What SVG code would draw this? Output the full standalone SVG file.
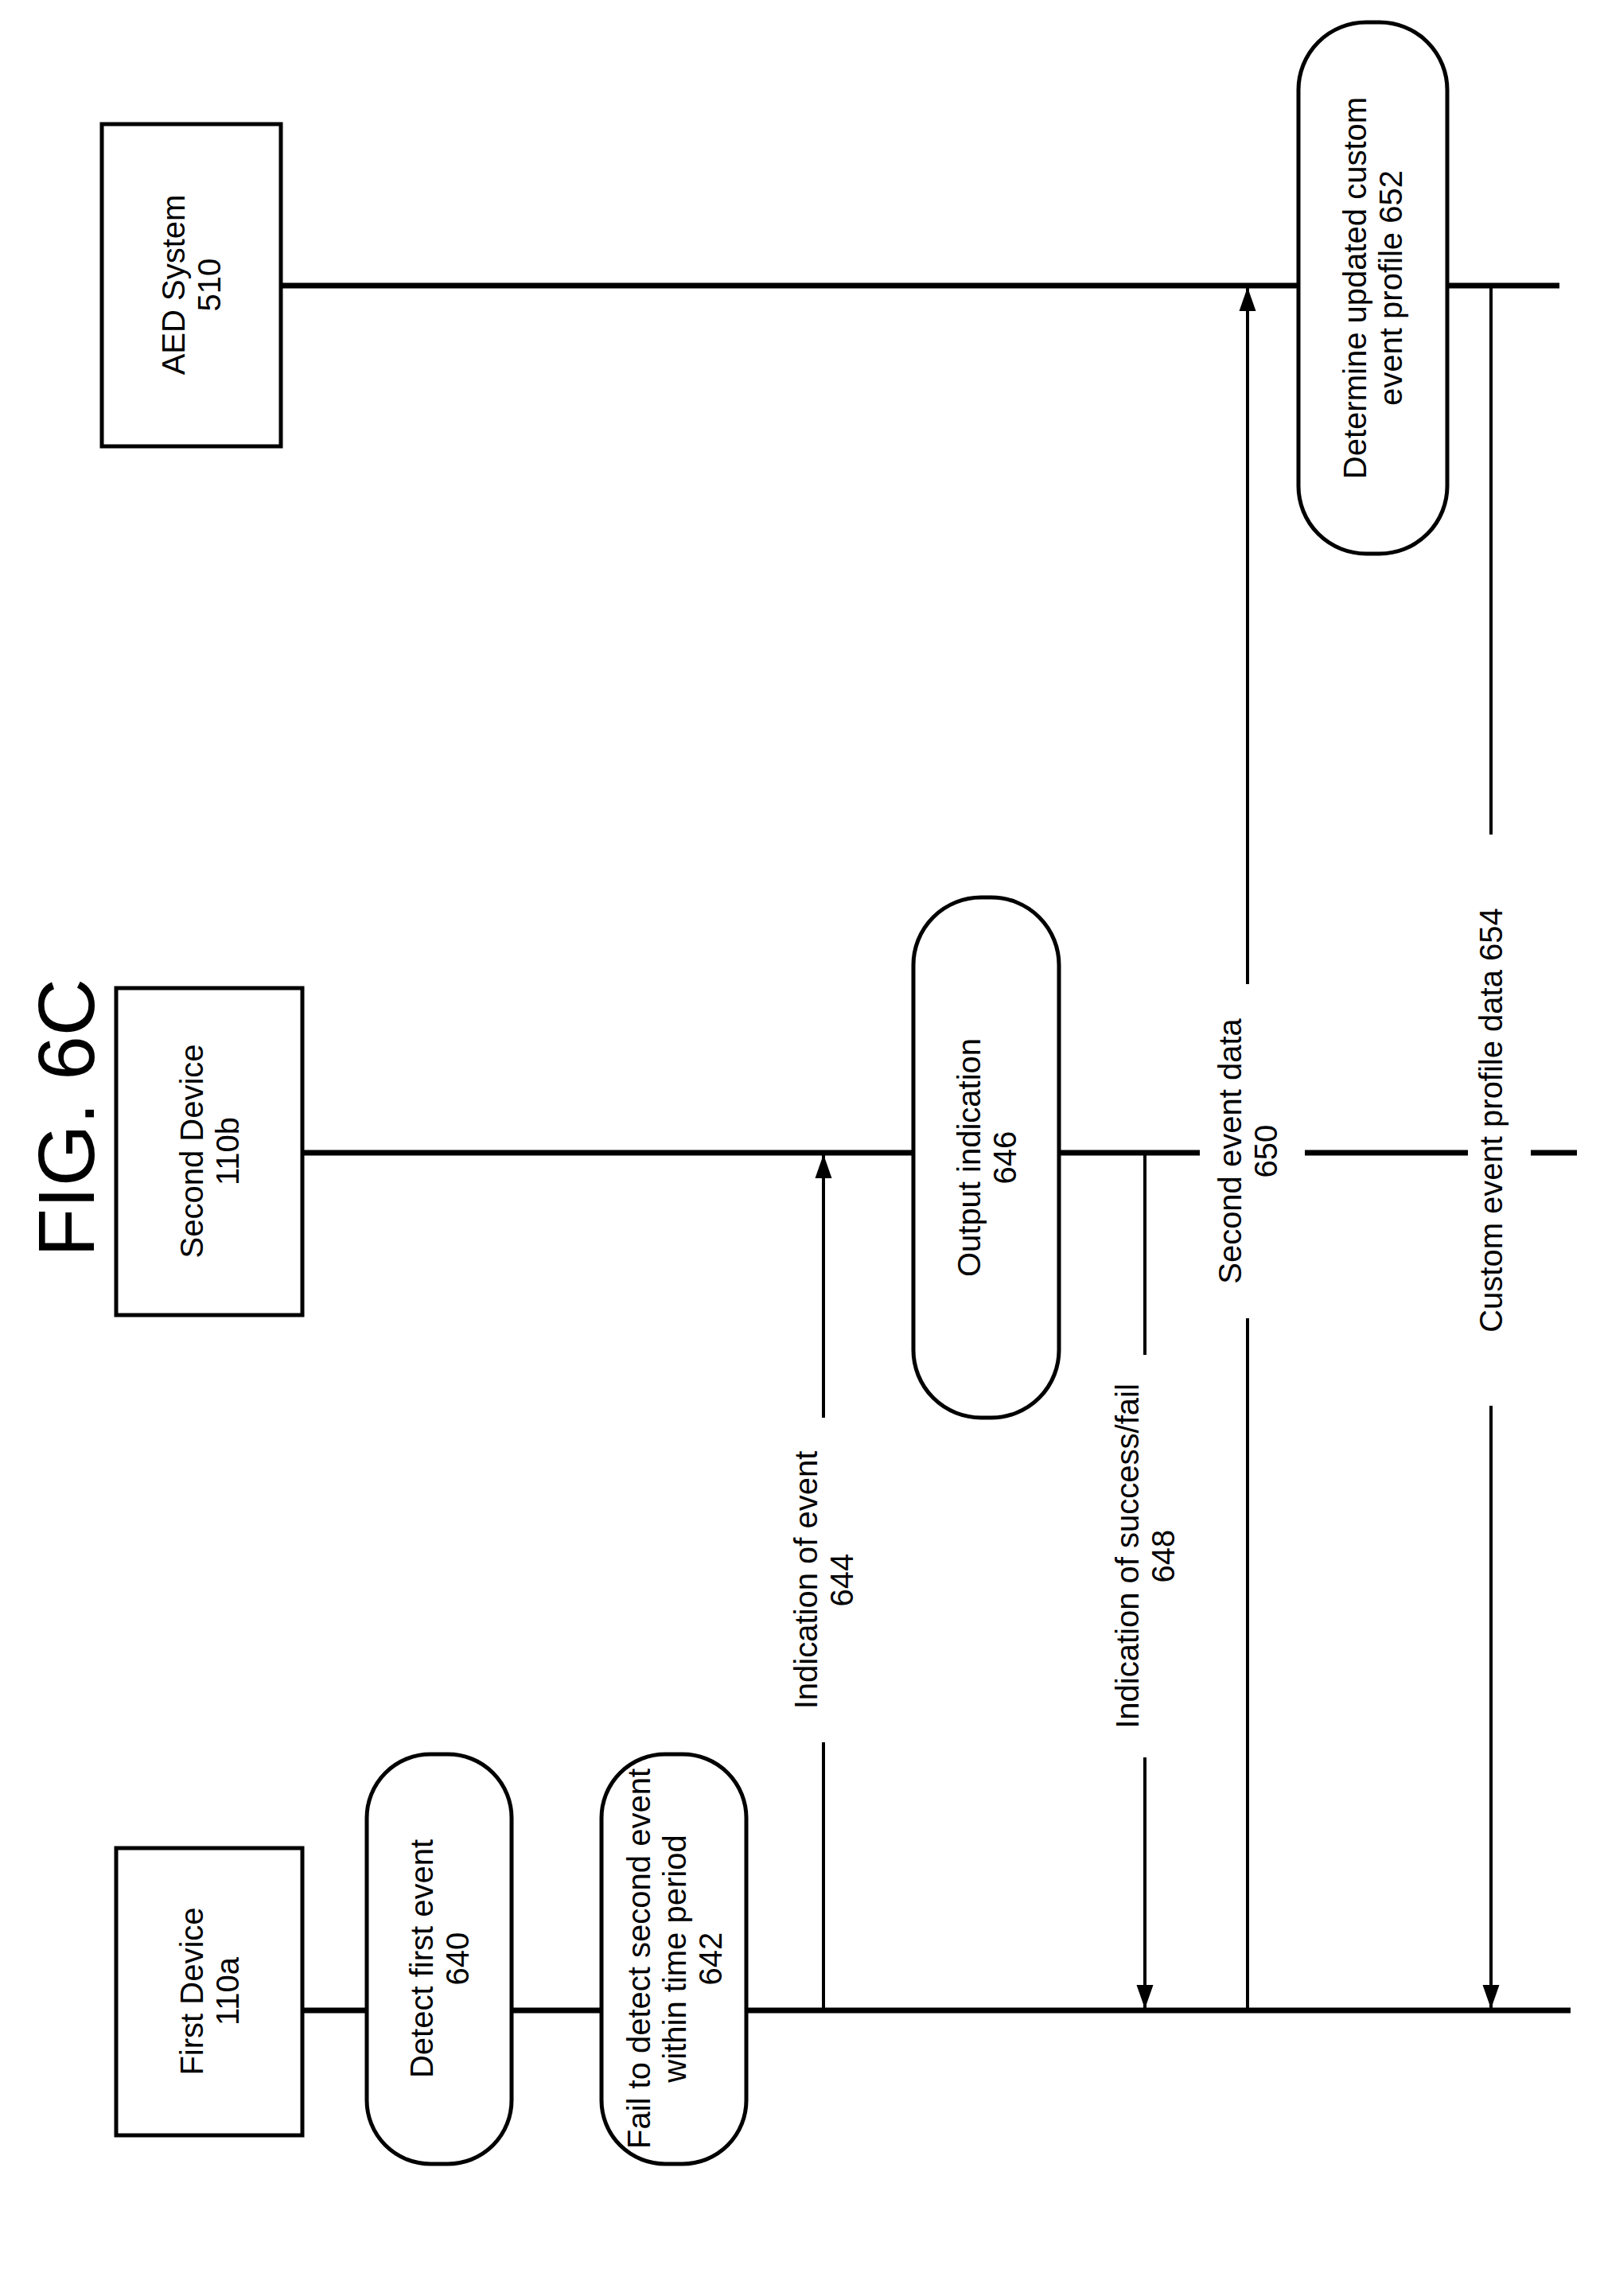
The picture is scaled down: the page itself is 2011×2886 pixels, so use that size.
<svg xmlns="http://www.w3.org/2000/svg" width="2011" height="2886" viewBox="0 0 2011 2886">
<defs>
<style>
.b{fill:#fff;stroke:#000;stroke-width:5}
.l{stroke:#000;stroke-width:7;fill:none}
.c{stroke:#000;stroke-width:4;fill:none}
text{font-family:"Liberation Sans",Arial,sans-serif;font-size:40px;text-anchor:middle;fill:#000}
</style>
<marker id="a" viewBox="0 0 10 10" refX="10" refY="5" markerWidth="7" markerHeight="7" markerUnits="userSpaceOnUse" orient="auto"><path d="M0,0L10,5L0,10z"/></marker>
<marker id="ah" viewBox="0 0 10 10" refX="10" refY="5" markerWidth="30" markerHeight="30" markerUnits="userSpaceOnUse" orient="auto"><path d="M0,1.5L10,5L0,8.5z"/></marker>
</defs>
<text transform="translate(118,1405) rotate(-90)" style="font-size:100px">FIG. 6C</text>
<g id="lifelines">
<line class="l" x1="380" y1="2527" x2="1974" y2="2527"/>
<line class="l" x1="380" y1="1449" x2="1508" y2="1449"/>
<line class="l" x1="1640" y1="1449" x2="1845" y2="1449"/>
<line class="l" x1="1924" y1="1449" x2="1982" y2="1449"/>
<line class="l" x1="353" y1="359" x2="1960" y2="359"/>
</g>
<g id="first-device"><rect class="b" x="146" y="2323" width="234" height="361"/>
<text transform="translate(263,2503) rotate(-90)"><tspan x="0" y="-8">First Device</tspan><tspan x="0" y="37">110a</tspan></text></g>
<g id="second-device"><rect class="b" x="146" y="1242" width="234" height="411"/>
<text transform="translate(263,1447) rotate(-90)"><tspan x="0" y="-8">Second Device</tspan><tspan x="0" y="37">110b</tspan></text></g>
<g id="aed-system"><rect class="b" x="128" y="156" width="225" height="405"/>
<text transform="translate(240,358) rotate(-90)"><tspan x="0" y="-8">AED System</tspan><tspan x="0" y="37">510</tspan></text></g>
<g id="n640"><rect class="b" x="461" y="2205" width="182" height="515" rx="80" ry="80"/>
<text transform="translate(552,2462) rotate(-90)"><tspan x="0" y="-8">Detect first event</tspan><tspan x="0" y="37">640</tspan></text></g>
<g id="n642"><rect class="b" x="756" y="2205" width="182" height="515" rx="80" ry="80"/>
<text transform="translate(847,2462) rotate(-90)"><tspan x="0" y="-30">Fail to detect second event</tspan><tspan x="0" y="15">within time period</tspan><tspan x="0" y="60">642</tspan></text></g>
<g id="n646"><rect class="b" x="1148" y="1128" width="183" height="654" rx="85" ry="85"/>
<text transform="translate(1240,1455) rotate(-90)"><tspan x="0" y="-8">Output indication</tspan><tspan x="0" y="37">646</tspan></text></g>
<g id="n652"><rect class="b" x="1632" y="28" width="187" height="668" rx="85" ry="85"/>
<text transform="translate(1725,362) rotate(-90)"><tspan x="0" y="-8">Determine updated custom</tspan><tspan x="0" y="37">event profile 652</tspan></text></g>
<g id="connectors">
<line class="c" x1="1035" y1="2527" x2="1035" y2="2190"/>
<line class="c" x1="1035" y1="1782" x2="1035" y2="1451" marker-end="url(#ah)"/>
<line class="c" x1="1439" y1="1449" x2="1439" y2="1703"/>
<line class="c" x1="1439" y1="2209" x2="1439" y2="2525" marker-end="url(#ah)"/>
<line class="c" x1="1568" y1="2527" x2="1568" y2="1657"/>
<line class="c" x1="1568" y1="1237" x2="1568" y2="361" marker-end="url(#ah)"/>
<line class="c" x1="1874" y1="359" x2="1874" y2="1049"/>
<line class="c" x1="1874" y1="1767" x2="1874" y2="2525" marker-end="url(#ah)"/>
<text transform="translate(1035,1986) rotate(-90)"><tspan x="0" y="-8">Indication of event</tspan><tspan x="0" y="37">644</tspan></text>
<text transform="translate(1439,1956) rotate(-90)"><tspan x="0" y="-8">Indication of success/fail</tspan><tspan x="0" y="37">648</tspan></text>
<text transform="translate(1568,1447) rotate(-90)"><tspan x="0" y="-8">Second event data</tspan><tspan x="0" y="37">650</tspan></text>
<text transform="translate(1874,1408) rotate(-90)"><tspan x="0" y="14">Custom event profile data 654</tspan></text>
</g>
</svg>
